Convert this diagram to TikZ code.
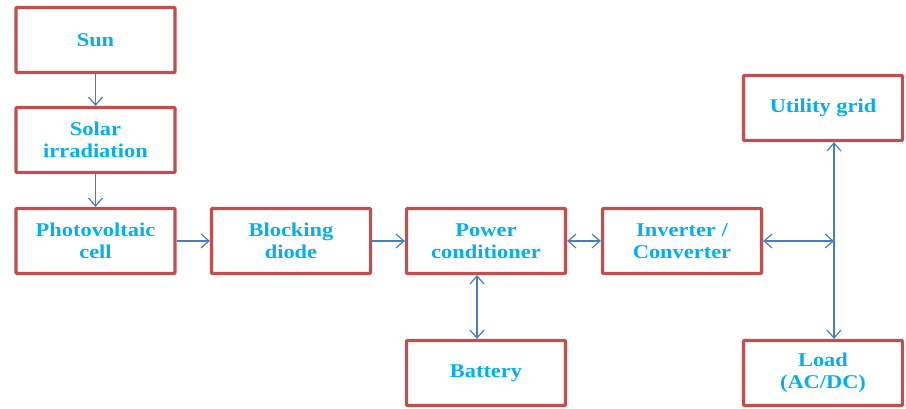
\documentclass[tikz,border=0pt]{standalone}
\usepackage{fontspec}
\setmainfont[FakeStretch=1.15]{Liberation Serif}
\usetikzlibrary{arrows.meta}
\definecolor{boxred}{HTML}{C0504D}
\definecolor{arrblue}{HTML}{4A7EBB}
\definecolor{txtblue}{HTML}{00B0F0}
\begin{document}
\begin{tikzpicture}[x=1pt,y=-1pt,
  blk/.style={draw=boxred, line width=3.2pt, fill=white, rounded corners=1pt,
    minimum width=159pt, minimum height=65pt, align=center, inner sep=2pt,
    text=txtblue, font=\fontsize{19.5}{22}\selectfont\bfseries},
  conn/.style={draw=arrblue, line width=1.2pt, -{Straight Barb[length=8pt,width=14pt]}},
  biconn/.style={draw=arrblue, line width=1.2pt, {Straight Barb[length=8pt,width=14pt]}-{Straight Barb[length=8pt,width=14pt]}}]
\useasboundingbox (0,0) rectangle (906,408);
\node[blk] (sun) at (95.5,40) {Sun};
\node[blk] (irr) at (95.5,140) {Solar\\irradiation};
\node[blk] (pv)  at (95.5,241) {Photovoltaic\\cell};
\node[blk] (bd)  at (291,241) {Blocking\\diode};
\node[blk] (pc)  at (486,241) {Power\\conditioner};
\node[blk] (inv) at (682,241) {Inverter /\\Converter};
\node[blk] (bat) at (486,373) {Battery};
\node[blk] (ug)  at (823,108) {Utility grid};
\node[blk] (load) at (823,373) {Load\\(AC/DC)};
\coordinate (j) at (834,241);
\draw[conn] (sun.south) -- (irr.north);
\draw[conn] (irr.south) -- (pv.north);
\draw[conn] (pv.east) -- (bd.west);
\draw[conn] (bd.east) -- (pc.west);
\draw[biconn] (pc.east) -- (inv.west);
\draw[biconn] ([xshift=-9pt]pc.south) -- ([xshift=-9pt]bat.north);
\draw[biconn] (inv.east) -- (j);
\draw[biconn] (ug.south -| j) -- (load.north -| j);
\end{tikzpicture}
\end{document}
